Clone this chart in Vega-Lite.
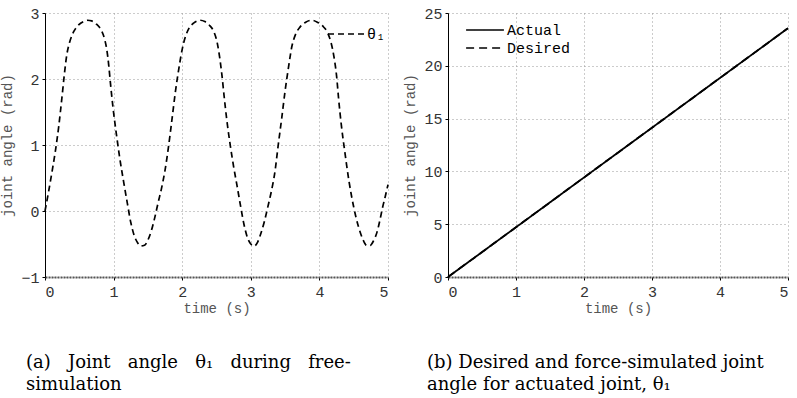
{
  "$schema": "https://vega.github.io/schema/vega-lite/v6.json",
  "padding": {"left": 0, "top": 6, "right": 0, "bottom": 0},
  "config": {
    "view": {"stroke": null},
    "axis": {
      "labelFont": "Liberation Mono", "labelFontSize": 15, "labelColor": "#333",
      "titleFont": "Liberation Mono", "titleFontSize": 14, "titleFontWeight": "normal", "titleColor": "#555",
      "gridColor": "#999", "gridDash": [1, 3], "gridWidth": 1,
      "tickColor": "#000", "tickSize": 3, "domainColor": "#000"
    },
    "axisX": {"domainColor": "#555", "domainWidth": 2, "domainDash": [2, 1], "labelPadding": 4, "titlePadding": 2, "labelAngle": 0},
    "axisY": {"labelPadding": 3, "titlePadding": 6},
    "legend": {
      "labelFont": "Liberation Mono", "labelFontSize": 15, "labelColor": "#000",
      "symbolType": "M-2,0H2", "symbolSize": 324, "symbolStrokeColor": "#000", "symbolStrokeWidth": 1.5,
      "rowPadding": 0, "padding": 0
    },
    "title": {"font": "DejaVu Serif", "fontSize": 18, "fontWeight": "normal", "color": "#000", "lineHeight": 22}
  },
  "spacing": 11,
  "hconcat": [
    {
      "width": 343, "height": 264,
      "data": {"values": [
        {"t": 0, "theta": 0, "s": "θ₁"}, {"t": 0.05, "theta": 0.28, "s": "θ₁"}, {"t": 0.1, "theta": 0.58, "s": "θ₁"},
        {"t": 0.15, "theta": 0.9, "s": "θ₁"}, {"t": 0.2, "theta": 1.28, "s": "θ₁"}, {"t": 0.25, "theta": 1.75, "s": "θ₁"},
        {"t": 0.28, "theta": 2.05, "s": "θ₁"}, {"t": 0.32, "theta": 2.38, "s": "θ₁"}, {"t": 0.36, "theta": 2.56, "s": "θ₁"},
        {"t": 0.42, "theta": 2.72, "s": "θ₁"}, {"t": 0.49, "theta": 2.82, "s": "θ₁"}, {"t": 0.56, "theta": 2.87, "s": "θ₁"},
        {"t": 0.62, "theta": 2.89, "s": "θ₁"}, {"t": 0.68, "theta": 2.88, "s": "θ₁"}, {"t": 0.75, "theta": 2.83, "s": "θ₁"},
        {"t": 0.82, "theta": 2.74, "s": "θ₁"}, {"t": 0.87, "theta": 2.6, "s": "θ₁"}, {"t": 0.9, "theta": 2.45, "s": "θ₁"},
        {"t": 0.93, "theta": 2.2, "s": "θ₁"}, {"t": 0.95, "theta": 1.98, "s": "θ₁"}, {"t": 0.99, "theta": 1.58, "s": "θ₁"},
        {"t": 1.04, "theta": 1.17, "s": "θ₁"}, {"t": 1.09, "theta": 0.8, "s": "θ₁"}, {"t": 1.15, "theta": 0.42, "s": "θ₁"},
        {"t": 1.2, "theta": 0.12, "s": "θ₁"}, {"t": 1.25, "theta": -0.17, "s": "θ₁"}, {"t": 1.3, "theta": -0.37, "s": "θ₁"},
        {"t": 1.35, "theta": -0.48, "s": "θ₁"}, {"t": 1.4, "theta": -0.53, "s": "θ₁"}, {"t": 1.45, "theta": -0.52, "s": "θ₁"},
        {"t": 1.5, "theta": -0.44, "s": "θ₁"}, {"t": 1.55, "theta": -0.3, "s": "θ₁"}, {"t": 1.6, "theta": -0.1, "s": "θ₁"},
        {"t": 1.65, "theta": 0.13, "s": "θ₁"}, {"t": 1.7, "theta": 0.35, "s": "θ₁"}, {"t": 1.75, "theta": 0.62, "s": "θ₁"},
        {"t": 1.8, "theta": 0.97, "s": "θ₁"}, {"t": 1.85, "theta": 1.38, "s": "θ₁"}, {"t": 1.9, "theta": 1.8, "s": "θ₁"},
        {"t": 1.95, "theta": 2.15, "s": "θ₁"}, {"t": 2.0, "theta": 2.45, "s": "θ₁"}, {"t": 2.05, "theta": 2.65, "s": "θ₁"},
        {"t": 2.1, "theta": 2.77, "s": "θ₁"}, {"t": 2.17, "theta": 2.85, "s": "θ₁"}, {"t": 2.26, "theta": 2.89, "s": "θ₁"},
        {"t": 2.33, "theta": 2.87, "s": "θ₁"}, {"t": 2.4, "theta": 2.81, "s": "θ₁"}, {"t": 2.46, "theta": 2.72, "s": "θ₁"},
        {"t": 2.51, "theta": 2.55, "s": "θ₁"}, {"t": 2.55, "theta": 2.3, "s": "θ₁"}, {"t": 2.58, "theta": 2.05, "s": "θ₁"},
        {"t": 2.61, "theta": 1.75, "s": "θ₁"}, {"t": 2.65, "theta": 1.38, "s": "θ₁"}, {"t": 2.7, "theta": 1.0, "s": "θ₁"},
        {"t": 2.75, "theta": 0.67, "s": "θ₁"}, {"t": 2.8, "theta": 0.38, "s": "θ₁"}, {"t": 2.85, "theta": 0.08, "s": "θ₁"},
        {"t": 2.9, "theta": -0.2, "s": "θ₁"}, {"t": 2.95, "theta": -0.4, "s": "θ₁"}, {"t": 3.0, "theta": -0.5, "s": "θ₁"},
        {"t": 3.05, "theta": -0.53, "s": "θ₁"}, {"t": 3.1, "theta": -0.47, "s": "θ₁"}, {"t": 3.15, "theta": -0.33, "s": "θ₁"},
        {"t": 3.2, "theta": -0.15, "s": "θ₁"}, {"t": 3.25, "theta": 0.07, "s": "θ₁"}, {"t": 3.3, "theta": 0.3, "s": "θ₁"},
        {"t": 3.35, "theta": 0.58, "s": "θ₁"}, {"t": 3.4, "theta": 1.0, "s": "θ₁"}, {"t": 3.45, "theta": 1.4, "s": "θ₁"},
        {"t": 3.5, "theta": 1.82, "s": "θ₁"}, {"t": 3.55, "theta": 2.18, "s": "θ₁"}, {"t": 3.6, "theta": 2.5, "s": "θ₁"},
        {"t": 3.65, "theta": 2.67, "s": "θ₁"}, {"t": 3.72, "theta": 2.79, "s": "θ₁"}, {"t": 3.8, "theta": 2.86, "s": "θ₁"},
        {"t": 3.89, "theta": 2.89, "s": "θ₁"}, {"t": 3.97, "theta": 2.86, "s": "θ₁"}, {"t": 4.05, "theta": 2.8, "s": "θ₁"},
        {"t": 4.12, "theta": 2.7, "s": "θ₁"}, {"t": 4.17, "theta": 2.55, "s": "θ₁"}, {"t": 4.21, "theta": 2.35, "s": "θ₁"},
        {"t": 4.25, "theta": 2.05, "s": "θ₁"}, {"t": 4.28, "theta": 1.7, "s": "θ₁"}, {"t": 4.32, "theta": 1.3, "s": "θ₁"},
        {"t": 4.37, "theta": 0.9, "s": "θ₁"}, {"t": 4.43, "theta": 0.46, "s": "θ₁"}, {"t": 4.5, "theta": 0.06, "s": "θ₁"},
        {"t": 4.57, "theta": -0.24, "s": "θ₁"}, {"t": 4.63, "theta": -0.42, "s": "θ₁"}, {"t": 4.69, "theta": -0.52, "s": "θ₁"},
        {"t": 4.74, "theta": -0.52, "s": "θ₁"}, {"t": 4.79, "theta": -0.45, "s": "θ₁"}, {"t": 4.84, "theta": -0.32, "s": "θ₁"},
        {"t": 4.88, "theta": -0.15, "s": "θ₁"}, {"t": 4.92, "theta": 0.05, "s": "θ₁"}, {"t": 4.96, "theta": 0.22, "s": "θ₁"},
        {"t": 5.0, "theta": 0.4, "s": "θ₁"}
      ]},
      "mark": {"type": "line", "color": "#000", "strokeWidth": 1.7, "interpolate": "monotone"},
      "encoding": {
        "x": {"field": "t", "type": "quantitative", "scale": {"domain": [0, 5], "nice": false},
              "axis": {"title": "time (s)", "values": [0, 1, 2, 3, 4, 5]}},
        "y": {"field": "theta", "type": "quantitative", "scale": {"domain": [-1, 3], "nice": false},
              "axis": {"title": "joint angle (rad)", "values": [-1, 0, 1, 2, 3]}},
        "strokeDash": {"field": "s", "type": "nominal", "scale": {"domain": ["θ₁"], "range": [[6, 4]]},
                       "legend": {"title": null, "orient": "none", "legendX": 291, "legendY": 11, "labelOffset": 11}}
      },
      "title": {"text": ["(a)\u00a0\u00a0\u00a0Joint\u00a0\u00a0\u00a0angle\u00a0\u00a0\u00a0θ₁\u00a0\u00a0\u00a0during\u00a0\u00a0\u00a0free-", "simulation"], "orient": "bottom", "anchor": "start", "frame": "group", "dx": -19, "offset": 39}
    },
    {
      "width": 340, "height": 264,
      "data": {"values": [
        {"t": 0, "angle": 0, "series": "Desired"}, {"t": 1, "angle": 4.712, "series": "Desired"},
        {"t": 2, "angle": 9.425, "series": "Desired"}, {"t": 3, "angle": 14.137, "series": "Desired"},
        {"t": 4, "angle": 18.85, "series": "Desired"}, {"t": 5, "angle": 23.562, "series": "Desired"},
        {"t": 0, "angle": 0, "series": "Actual"}, {"t": 1, "angle": 4.712, "series": "Actual"},
        {"t": 2, "angle": 9.425, "series": "Actual"}, {"t": 3, "angle": 14.137, "series": "Actual"},
        {"t": 4, "angle": 18.85, "series": "Actual"}, {"t": 5, "angle": 23.562, "series": "Actual"}
      ]},
      "mark": {"type": "line", "color": "#000", "strokeWidth": 1.8},
      "encoding": {
        "x": {"field": "t", "type": "quantitative", "scale": {"domain": [0, 5], "nice": false},
              "axis": {"title": "time (s)", "values": [0, 1, 2, 3, 4, 5]}},
        "y": {"field": "angle", "type": "quantitative", "scale": {"domain": [0, 25], "nice": false},
              "axis": {"title": "joint angle (rad)", "values": [0, 5, 10, 15, 20, 25]}},
        "strokeDash": {"field": "series", "type": "nominal",
                       "scale": {"domain": ["Actual", "Desired"], "range": [[1, 0], [8, 5]]},
                       "legend": {"title": null, "orient": "none", "legendX": 27, "legendY": 7, "labelOffset": 12, "symbolType": "M-2.1,0H2.1"}}
      },
      "title": {"text": ["(b) Desired and force-simulated joint", "angle for actuated joint, θ₁"], "orient": "bottom", "anchor": "start", "frame": "group", "dx": -21, "offset": 39}
    }
  ],
  "resolve": {"scale": {"strokeDash": "independent"}, "legend": {"strokeDash": "independent"}}
}
